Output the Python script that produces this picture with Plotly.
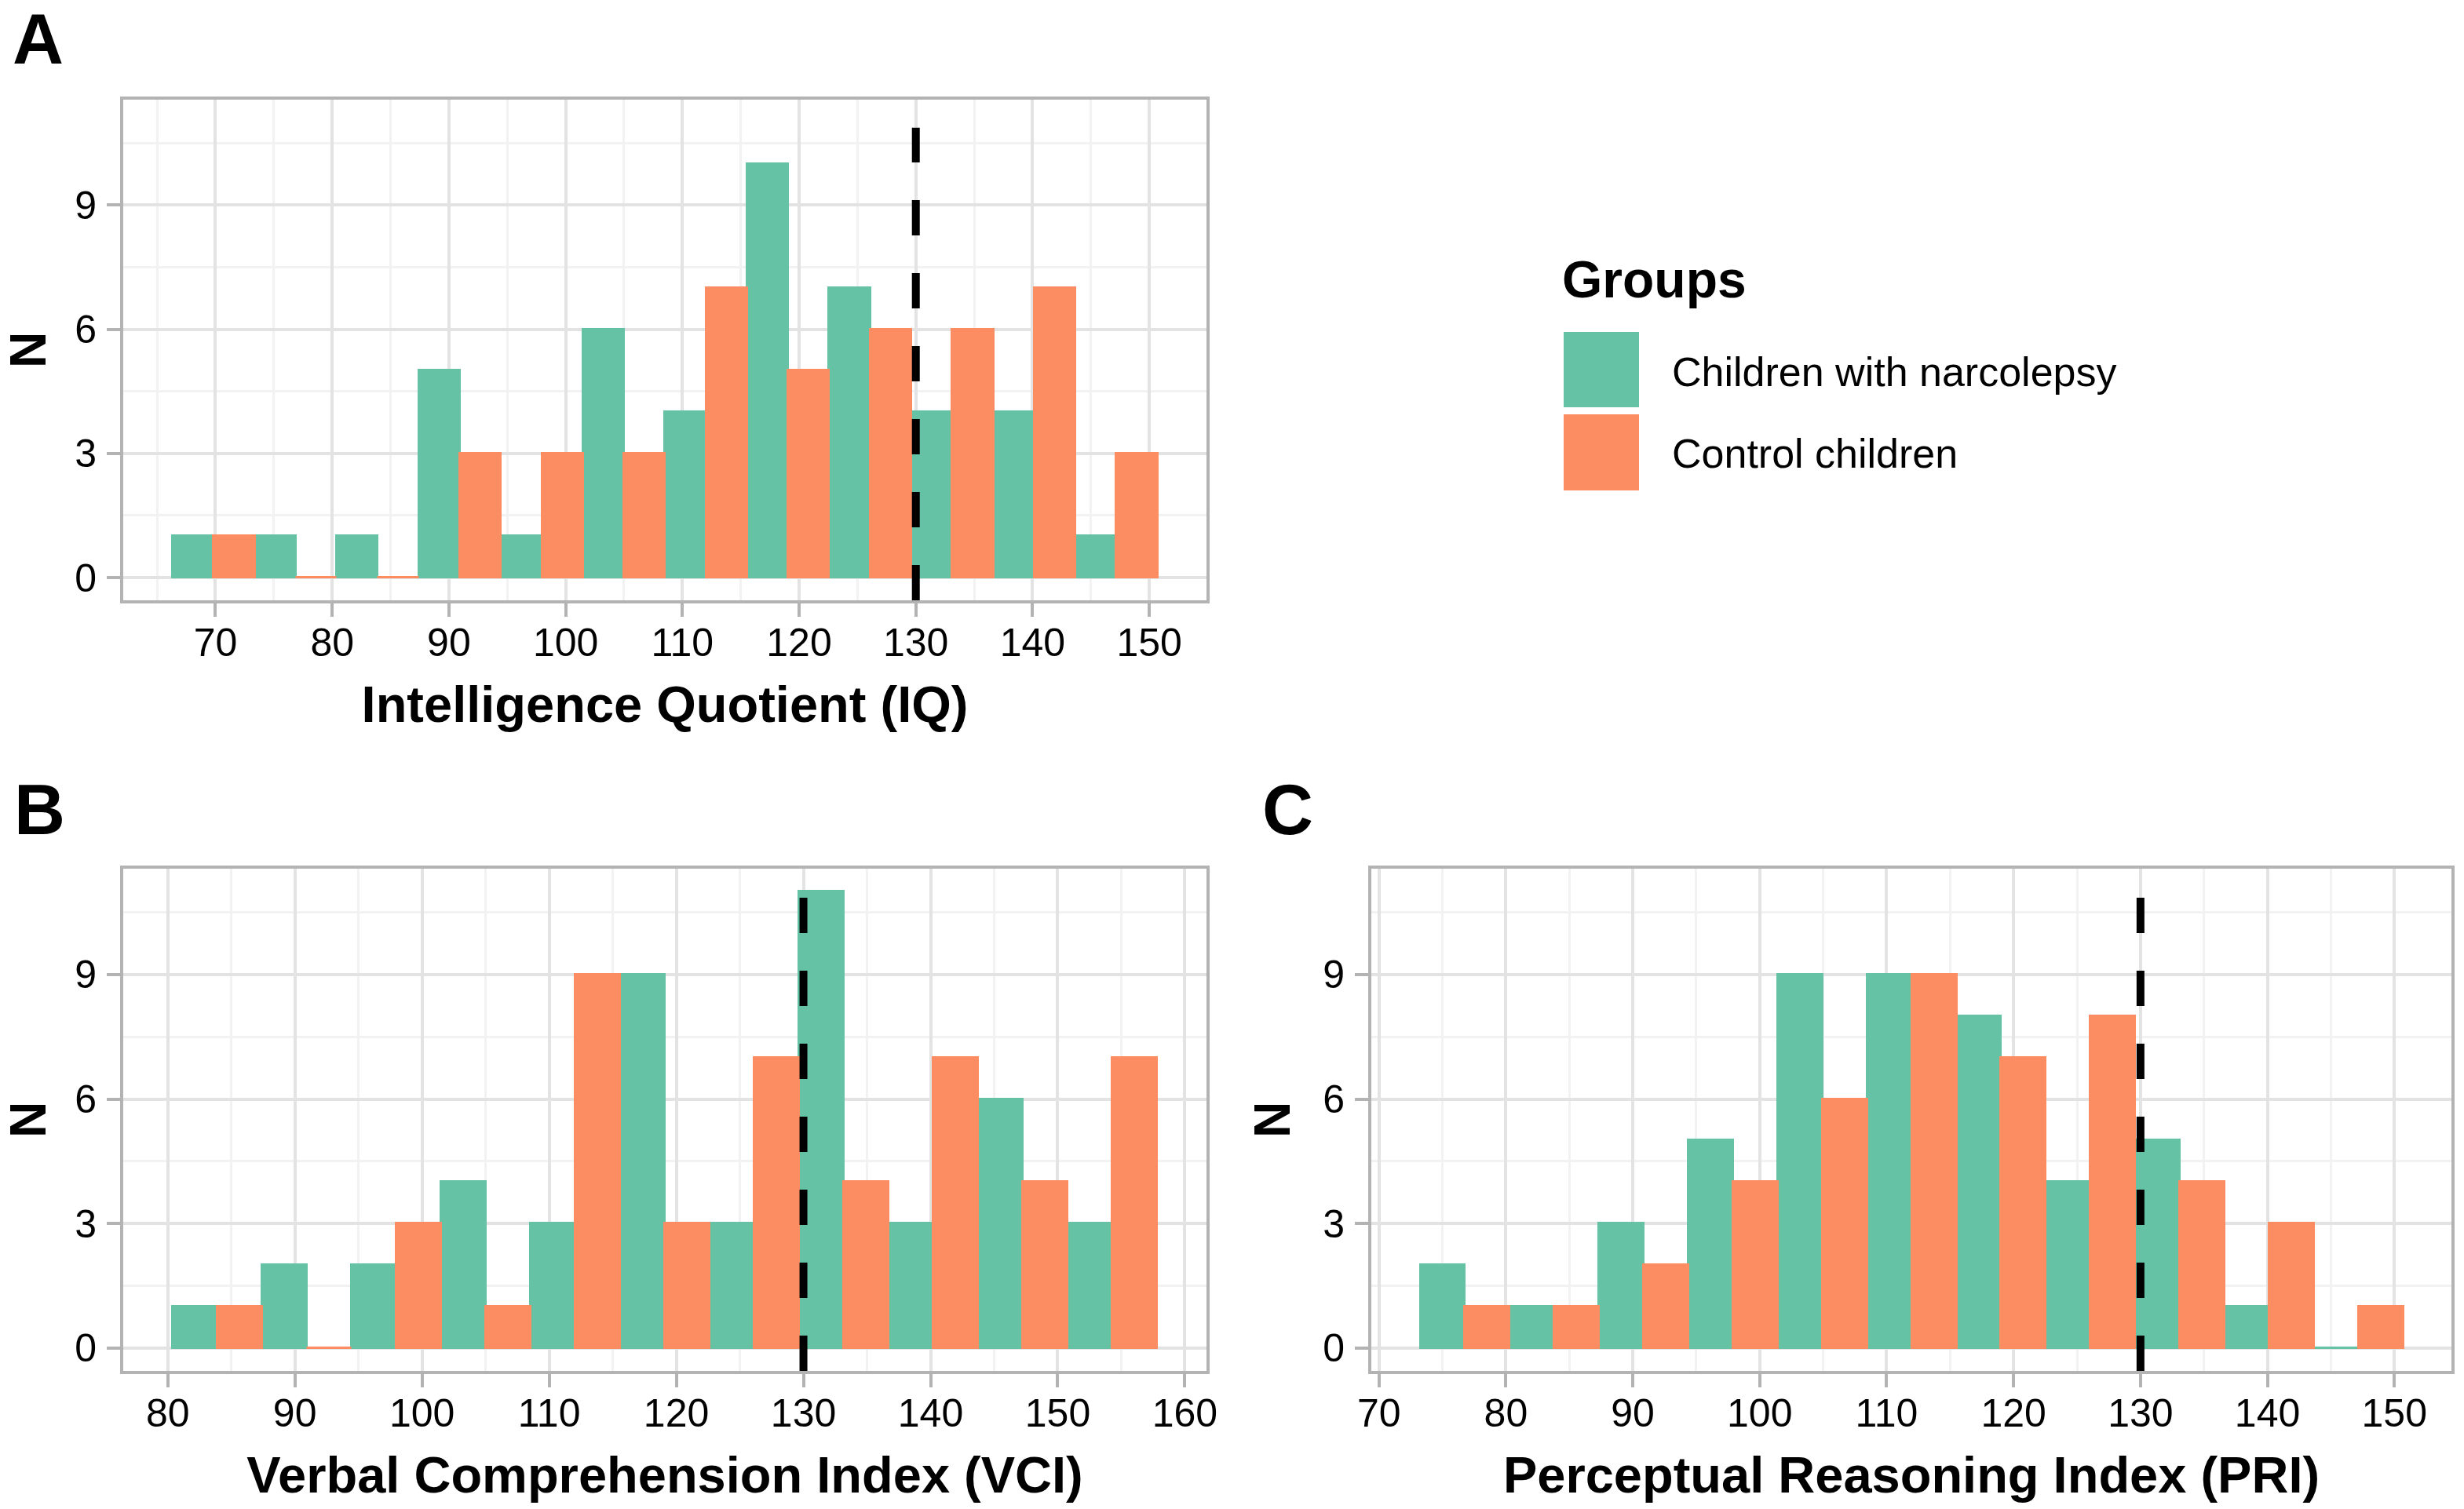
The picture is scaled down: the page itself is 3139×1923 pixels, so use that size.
import plotly.graph_objects as go

# ---------------- data ----------------
groups = ["Children with narcolepsy", "Control children"]
colors = ["#66C2A5", "#FC8D62"]

iq_bins = [69.86, 76.89, 83.92, 90.95, 97.98, 105.01, 112.04, 119.07, 126.10, 133.13, 140.16, 147.19]
iq_narco = [1, 1, 1, 5, 1, 6, 4, 10, 7, 4, 4, 1]
iq_ctrl = [1, 0, 0, 3, 3, 3, 7, 5, 6, 6, 7, 3]

vci_bins = [83.89, 90.93, 97.97, 105.01, 112.05, 119.09, 126.13, 133.17, 140.21, 147.25, 154.29]
vci_narco = [1, 2, 2, 4, 3, 9, 3, 11, 3, 6, 3]
vci_ctrl = [1, 0, 3, 1, 9, 3, 7, 4, 7, 4, 7]

pri_bins = [76.79, 83.83, 90.87, 97.91, 104.95, 111.99, 119.03, 126.07, 133.11, 140.15, 147.19]
pri_narco = [2, 1, 3, 5, 9, 9, 8, 4, 5, 1, 0]
pri_ctrl = [1, 1, 2, 4, 6, 9, 7, 8, 4, 3, 1]

threshold = 130
y_ticks = [0, 3, 6, 9]
y_range = [-0.55, 11.55]

panels = [
    dict(label="A", title="Intelligence Quotient (IQ)", bins=iq_bins, vals=[iq_narco, iq_ctrl],
         xr=[62.1, 154.9], ticks=[70, 80, 90, 100, 110, 120, 130, 140, 150],
         dx=[157 / 3139, 1537 / 3139], dy=[1 - 765 / 1923, 1 - 127 / 1923]),
    dict(label="B", title="Verbal Comprehension Index (VCI)", bins=vci_bins, vals=[vci_narco, vci_ctrl],
         xr=[76.5, 161.7], ticks=[80, 90, 100, 110, 120, 130, 140, 150, 160],
         dx=[157 / 3139, 1537 / 3139], dy=[1 - 1747 / 1923, 1 - 1107 / 1923]),
    dict(label="C", title="Perceptual Reasoning Index (PRI)", bins=pri_bins, vals=[pri_narco, pri_ctrl],
         xr=[69.4, 154.5], ticks=[70, 80, 90, 100, 110, 120, 130, 140, 150],
         dx=[1747 / 3139, 3123 / 3139], dy=[1 - 1747 / 1923, 1 - 1107 / 1923]),
]

FONT = "Liberation Sans, Arial, sans-serif"
fig = go.Figure()
layout = dict(
    width=3139, height=1923, margin=dict(l=0, r=0, t=0, b=0, autoexpand=False),
    paper_bgcolor="white", plot_bgcolor="white",
    barmode="group", bargap=0, bargroupgap=0, showlegend=False,
    font=dict(family=FONT, color="black"),
)
shapes = []
annotations = []

for i, p in enumerate(panels):
    n = "" if i == 0 else str(i + 1)
    xa, ya = "x" + n, "y" + n
    for g in range(2):
        fig.add_trace(go.Bar(
            x=p["bins"], y=p["vals"][g], name=groups[g], xaxis=xa, yaxis=ya,
            marker=dict(color=colors[g], line=dict(color=colors[g], width=3)),
            offsetgroup=str(g), showlegend=False,
        ))
    axis_common = dict(
        showline=True, mirror=True, linecolor="#b3b3b3", linewidth=4,
        ticks="outside", ticklen=17, tickwidth=4, tickcolor="#b3b3b3",
        gridcolor="#e3e3e3", gridwidth=4, zeroline=False, automargin=False,
        tickfont=dict(size=50, color="black", family=FONT),
    )
    layout["xaxis" + n] = dict(
        axis_common, domain=p["dx"], range=p["xr"], anchor=ya,
        tickmode="array", tickvals=p["ticks"],
        minor=dict(showgrid=True, gridcolor="#f2f2f2", gridwidth=3, ticks="", dtick=10, tick0=65),
        ticklabelstandoff=-10,
        title=dict(text="<b>" + p["title"] + "</b>", font=dict(size=65, family=FONT, color="black"), standoff=29),
    )
    layout["yaxis" + n] = dict(
        axis_common, domain=p["dy"], range=y_range, anchor=xa,
        tickmode="array", tickvals=y_ticks,
        minor=dict(showgrid=True, gridcolor="#f2f2f2", gridwidth=3, ticks="", dtick=3, tick0=1.5),
        ticklabelstandoff=3,
        title=dict(text="<b>N</b>", font=dict(size=64, family=FONT, color="black"), standoff=22),
    )
    shapes.append(dict(
        type="line", xref=xa, yref=ya + " domain", x0=threshold, x1=threshold, y0=0, y1=0.944,
        line=dict(color="black", width=10, dash="45px,48px"), layer="above",
    ))

# panel letters
for lab, x, y in [("A", 14, 50), ("B", 16, 1032), ("C", 1606, 1032)]:
    annotations.append(dict(
        text="<b>" + lab + "</b>", xref="paper", yref="paper", x=x / 3139, y=1 - y / 1923,
        xanchor="left", yanchor="middle", showarrow=False, font=dict(size=90, family=FONT, color="black"),
    ))

# legend (manual)
annotations.append(dict(
    text="<b>Groups</b>", xref="paper", yref="paper", x=1988 / 3139, y=1 - 356 / 1923,
    xanchor="left", yanchor="middle", showarrow=False, font=dict(size=66, family=FONT, color="black"),
))
for g, (top, bot, ty) in enumerate([(423, 519, 474), (528, 625, 578)]):
    shapes.append(dict(
        type="rect", xref="paper", yref="paper", x0=1992 / 3139, x1=2088 / 3139,
        y0=1 - bot / 1923, y1=1 - top / 1923, fillcolor=colors[g], line=dict(width=0),
    ))
    annotations.append(dict(
        text=groups[g], xref="paper", yref="paper", x=2128 / 3139, y=1 - ty / 1923,
        xanchor="left", yanchor="middle", showarrow=False, font=dict(size=52, family=FONT, color="black"),
    ))

layout["shapes"] = shapes
layout["annotations"] = annotations
fig.update_layout(**layout)
fig.write_html("out.html", config={"displayModeBar": False},
               post_script="document.body.style.margin='0px';")
